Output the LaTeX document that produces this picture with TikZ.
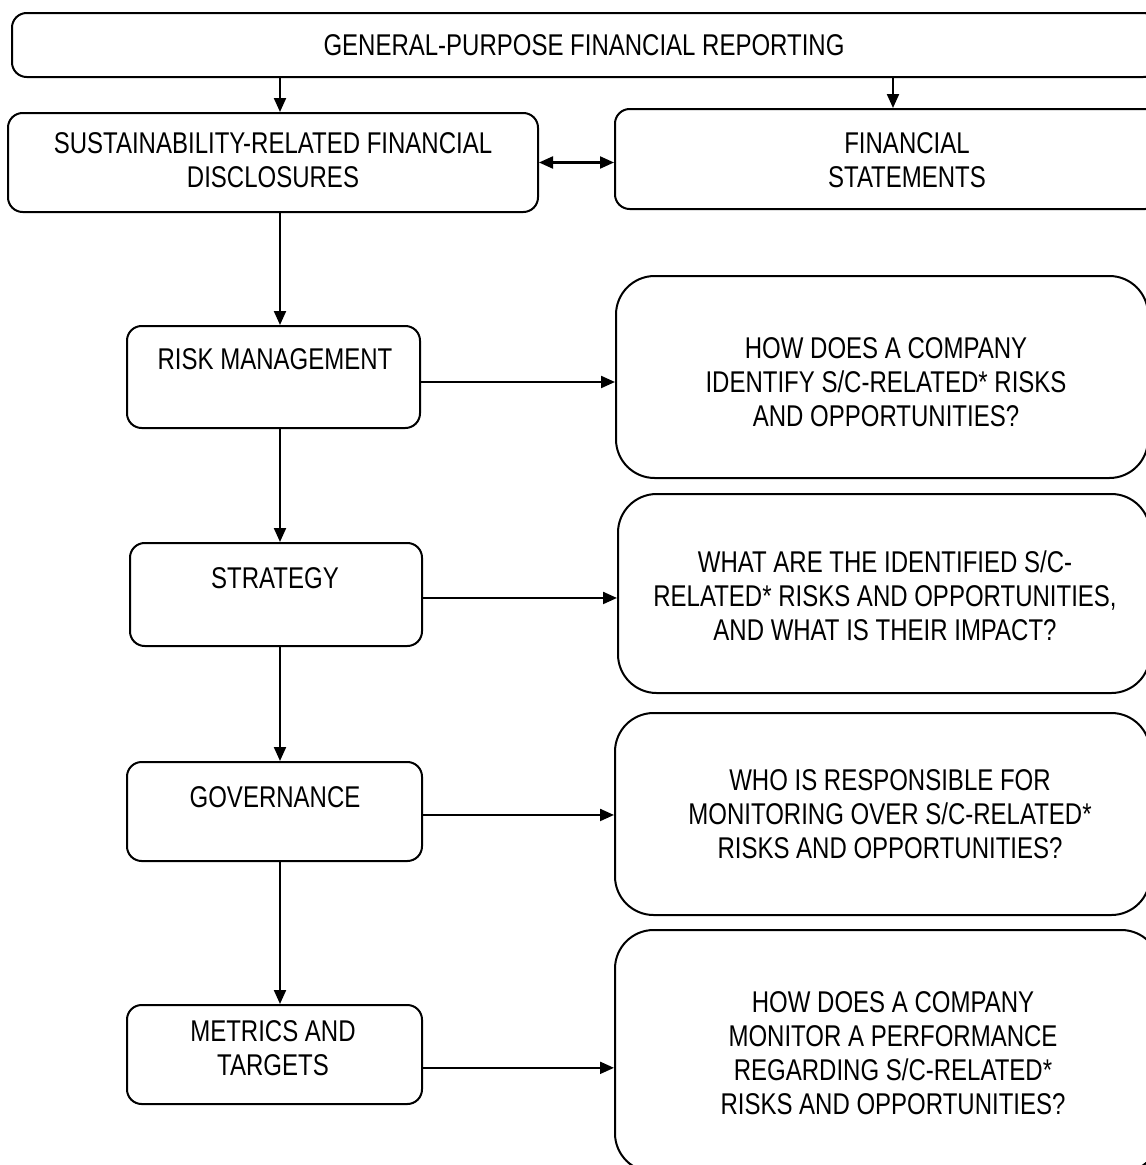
\documentclass[tikz,border=0pt]{standalone}
\usepackage{fontspec}
\setmainfont{Liberation Sans}[FakeStretch=0.8]
\usetikzlibrary{arrows.meta}
\usetikzlibrary{fit}

\begin{document}
\begin{tikzpicture}[x=0.75pt,y=0.75pt,yscale=-1,xscale=1,
  rbox/.style={draw, line width=1.5pt, rounded corners=11pt, inner sep=0pt},
  qbox/.style={rbox, rounded corners=29pt},
  txt/.style={align=center, inner sep=0.75pt, font=\fontsize{22.5}{25.5}\selectfont},
  arr/.style={line width=1.6pt, -{Triangle[length=10.5pt,width=9pt]}},
  darr/.style={line width=1.6pt, {Triangle[length=10.5pt,width=9pt]}-{Triangle[length=10.5pt,width=9pt]}}]
\useasboundingbox (0,0) rectangle (1146,1165);

%Rounded Rect [gfr]
\node [rbox, fit={(12,13) (1158,77)}] (gfr) {};
%Rounded Rect [srfd]
\node [rbox, fit={(8,113) (538,212)}] (srfd) {};
%Rounded Rect [fs]
\node [rbox, fit={(615,109) (1160,209)}] (fs) {};
%Rounded Rect [rm]
\node [rbox, fit={(127,326) (420,428)}] (rm) {};
%Rounded Rect [q1]
\node [qbox, fit={(616,276) (1148,478)}] (q1) {};
%Rounded Rect [str]
\node [rbox, fit={(130,543) (422,646)}] (str) {};
%Rounded Rect [q2]
\node [qbox, fit={(618,494) (1150,693)}] (q2) {};
%Rounded Rect [gov]
\node [rbox, fit={(127,762) (422,861)}] (gov) {};
%Rounded Rect [q3]
\node [qbox, fit={(615,713) (1150,915)}] (q3) {};
%Rounded Rect [mt]
\node [rbox, fit={(127,1005) (422,1104)}] (mt) {};
%Rounded Rect [q4]
\node [qbox, fit={(615,930) (1160,1172)}] (q4) {};

\coordinate (a1) at (280,0);
\coordinate (a2) at (893,0);

%Straight Lines
\draw [arr] (gfr.south -| a1) -- (srfd.north -| a1);
\draw [arr] (gfr.south -| a2) -- (fs.north -| a2);
\draw [darr] (srfd.east) -- (srfd.east -| fs.west);
\draw [arr] (srfd.south -| a1) -- (rm.north -| a1);
\draw [arr] (rm.south -| a1) -- (str.north -| a1);
\draw [arr] (str.south -| a1) -- (gov.north -| a1);
\draw [arr] (gov.south -| a1) -- (mt.north -| a1);
\draw [arr] ([yshift=3.75pt]rm.east) -- ([yshift=3.75pt]rm.east -| q1.west);
\draw [arr] ([yshift=2.6pt]str.east) -- ([yshift=2.6pt]str.east -| q2.west);
\draw [arr] ([yshift=2.6pt]gov.east) -- ([yshift=2.6pt]gov.east -| q3.west);
\draw [arr] ([yshift=10pt]mt.east) -- ([yshift=10pt]mt.east -| q4.west);

% Text Node
\node [txt] (t-gfr) at (584,45) {GENERAL-PURPOSE FINANCIAL REPORTING};
% Text Node
\node [txt] (t-srfd) at (273,160) {SUSTAINABILITY-RELATED FINANCIAL\\DISCLOSURES};
% Text Node
\node [txt] (t-fs) at (907,160) {FINANCIAL\\STATEMENTS};
% Text Node
\node [txt] (t-rm) at (275,359) {RISK MANAGEMENT};
% Text Node
\node [txt] (t-q1) at (886,382) {HOW DOES A COMPANY\\IDENTIFY S/C-RELATED* RISKS\\AND OPPORTUNITIES?};
% Text Node
\node [txt] (t-str) at (275,578) {STRATEGY};
% Text Node
\node [txt] (t-q2) at (885,596) {WHAT ARE THE IDENTIFIED S/C-\\RELATED* RISKS AND OPPORTUNITIES,\\AND WHAT IS THEIR IMPACT?};
% Text Node
\node [txt] (t-gov) at (275,797) {GOVERNANCE};
% Text Node
\node [txt] (t-q3) at (890,814) {WHO IS RESPONSIBLE FOR\\MONITORING OVER S/C-RELATED*\\RISKS AND OPPORTUNITIES?};
% Text Node
\node [txt] (t-mt) at (273,1048) {METRICS AND\\TARGETS};
% Text Node
\node [txt] (t-q4) at (893,1053) {HOW DOES A COMPANY\\MONITOR A PERFORMANCE\\REGARDING S/C-RELATED*\\RISKS AND OPPORTUNITIES?};

\end{tikzpicture}
\end{document}
